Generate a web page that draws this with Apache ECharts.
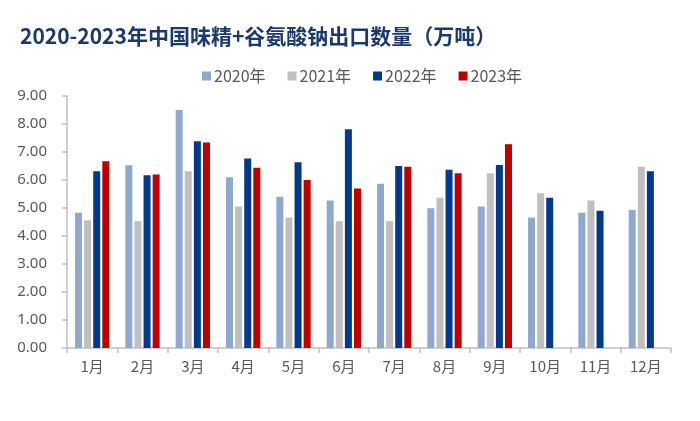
<!DOCTYPE html>
<html><head><meta charset="utf-8">
<script src="https://cdn.jsdelivr.net/npm/echarts@6/dist/echarts.min.js"></script>
<style>html,body{margin:0;padding:0;background:#fff}#c{width:700px;height:421px}</style>
</head><body><div id="c"></div>
<script>
const titleText = '2020-2023年中国味精+谷氨酸钠出口数量（万吨）';
const categories = ['1月','2月','3月','4月','5月','6月','7月','8月','9月','10月','11月','12月'];
const seriesNames = ['2020年','2021年','2022年','2023年'];
const v2020 = [4.83, 6.53, 8.50, 6.10, 5.40, 5.27, 5.87, 4.99, 5.05, 4.66, 4.83, 4.93];
const v2021 = [4.56, 4.53, 6.31, 5.05, 4.66, 4.53, 4.53, 5.37, 6.24, 5.53, 5.27, 6.47];
const v2022 = [6.31, 6.17, 7.38, 6.77, 6.63, 7.81, 6.50, 6.37, 6.54, 5.37, 4.90, 6.31];
const v2023 = [6.67, 6.20, 7.34, 6.44, 6.00, 5.70, 6.47, 6.24, 7.28, null, null, null];
const colors = ['#8EA9CD', '#BFBFBF', '#003A8C', '#C00000'];
const values = [v2020, v2021, v2022, v2023];

const chart = echarts.init(document.getElementById('c'));
chart.setOption({
  animation: false,
  title: {
    text: titleText, left: 15, top: 21,
    textStyle: { fontFamily: 'Noto Sans CJK SC', fontWeight: 'bold', fontSize: 21, color: '#1A3A6E' }
  },
  legend: {
    data: seriesNames, top: 63, left: 197, itemWidth: 9, itemHeight: 9, itemGap: 22,
    icon: 'rect',
    textStyle: { fontFamily: 'Noto Sans CJK SC', fontSize: 16, color: '#595959', padding: [0,0,0,-2] }
  },
  grid: { left: 67, right: 29, top: 96, bottom: 73, containLabel: false },
  xAxis: {
    type: 'category', data: categories,
    axisLine: { lineStyle: { color: '#BFBFBF', width: 1.5 } },
    axisTick: { show: true, length: 5, lineStyle: { color: '#BFBFBF', width: 1.5 } },
    axisLabel: { fontFamily: 'Noto Sans CJK SC', fontSize: 15, color: '#595959', margin: 11 }
  },
  yAxis: {
    type: 'value', min: 0, max: 9, interval: 1,
    splitLine: { show: false },
    axisLine: { show: true, lineStyle: { color: '#BFBFBF', width: 1.5 } },
    axisTick: { show: true, length: 5, lineStyle: { color: '#BFBFBF', width: 1.5 } },
    axisLabel: { fontFamily: 'Noto Sans', fontSize: 15, color: '#595959', margin: 20,
      formatter: v => v.toFixed(2) }
  },
  series: seriesNames.map((n, i) => ({
    name: n, type: 'bar', data: values[i], barWidth: 7, barGap: '30%',
    itemStyle: { color: colors[i] }
  }))
});
</script></body></html>
